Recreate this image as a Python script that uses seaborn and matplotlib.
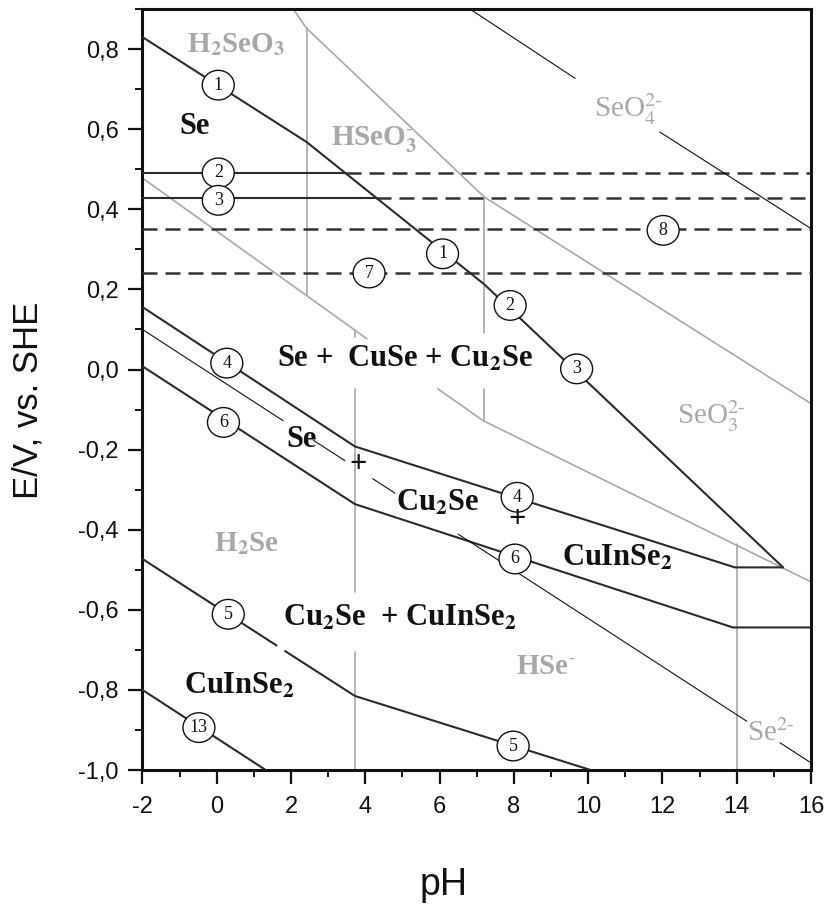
import matplotlib
matplotlib.use("Agg")
import matplotlib.pyplot as plt
from matplotlib.patches import Ellipse
from matplotlib.ticker import MultipleLocator, FuncFormatter
import seaborn as sns
import pandas as pd

# ---- boundary lines (pH, E) ; None separates pieces of one boundary ----
line1_ph = [-2, 2.42, 7.2, 15.25]
line1_e = [0.83, 0.568, 0.213, -0.494]
line2_ph = [-2, 3.47]
line2_e = [0.49, 0.49]
line2_dash_ph = [3.47, 16]
line2_dash_e = [0.49, 0.49]
line3_ph = [-2, 4.28]
line3_e = [0.428, 0.428]
line3_dash_ph = [4.28, 16]
line3_dash_e = [0.428, 0.428]
line8_ph = [-2, 16]
line8_e = [0.35, 0.35]
line7_ph = [-2, 16]
line7_e = [0.241, 0.241]
line4_ph = [-2, 3.72, 13.95, 15.25]
line4_e = [0.156, -0.192, -0.494, -0.494]
line6_ph = [-2, 3.72, 13.9, 16]
line6_e = [0.008, -0.336, -0.644, -0.644]
line5_ph = [-2, 1.61, None, 1.84, 3.72, 10.07]
line5_e = [-0.473, -0.689, None, -0.703, -0.815, -1.0]
line13_ph = [-2, 1.32]
line13_e = [-0.80, -1.0]
cu2se_ph = [-2, 1.79, None, 2.6, 3.45, None, 4.2, 4.8, None, 6.5, 14.27, None, 15.17, 16]
cu2se_e = [0.10, -0.128, None, -0.1765, -0.2275, None, -0.2726, -0.3087, None,
           -0.411, -0.878, None, -0.932, -0.982]
seo4_ph = [6.86, 9.65, None, 11.93, 16]
seo4_e = [0.8975, 0.727, None, 0.593, 0.352]

# ---- selenium species boundaries (grey) ----
g_upper_ph = [2.06, 2.42, 7.2, 16]
g_upper_e = [0.90, 0.852, 0.431, -0.085]
g_lower_ph = [-2, 4.04, None, 5.95, 7.18, 16]
g_lower_e = [0.478, 0.077, None, -0.048, -0.128, -0.53]
g_pk1_ph = [2.42, 2.42]
g_pk1_e = [0.852, 0.185]
g_pk2_ph = [7.2, 7.2, None, 7.2, 7.2]
g_pk2_e = [0.431, 0.09, None, -0.0475, -0.128]
g_pk3_ph = [3.72, 3.72, None, 3.72, 3.72, None, 3.72, 3.72]
g_pk3_e = [0.098, 0.08, None, -0.0475, -0.555, None, -0.705, -1.0]
g_pk4_ph = [14, 14]
g_pk4_e = [-0.436, -1.0]

# ---- numbered reaction markers ----
circle_text = ["1", "2", "3", "7", "4", "6", "5", "13", "1", "2", "3", "8", "4", "6", "5"]
circle_ph = [0.04, 0.04, 0.04, 4.1, 0.27, 0.18, 0.31, -0.48, 6.08, 7.9, 9.69, 12.02, 8.09, 8.03, 7.98]
circle_e = [0.71, 0.491, 0.4225, 0.241, 0.016, -0.132, -0.611, -0.894, 0.289, 0.16, 0.0017,
            0.3475, -0.319, -0.473, -0.94]

# ---- phase-field labels ----
phase_text = ["Se", "Se +  CuSe + Cu$_{\\mathbf{2}}$Se", "Se", "+", "Cu$_{\\mathbf{2}}$Se", "+",
              "CuInSe$_{\\mathbf{2}}$", "Cu$_{\\mathbf{2}}$Se  + CuInSe$_{\\mathbf{2}}$", "CuInSe$_{\\mathbf{2}}$"]
phase_ph = [-0.61, 5.07, 2.27, 3.81, 5.96, 8.09, 10.78, 4.93, 0.6]
phase_e = [0.589, 0.006, -0.194, -0.257, -0.3525, -0.394, -0.49, -0.64, -0.81]

species_text = ["H$_{\\mathbf{2}}$SeO$_{\\mathbf{3}}$", "HSeO$_{\\mathbf{3}}^{\u2010}$",
                "SeO$_4^{2\u2010}$", "SeO$_3^{2\u2010}$", "H$_{\\mathbf{2}}$Se", "HSe$^{\u2010}$",
                "Se$^{2\u2010}$"]
species_ph = [0.52, 4.23, 11.07, 13.31, 0.79, 8.87, 14.93]
species_e = [0.7925, 0.56, 0.631, -0.1375, -0.4525, -0.76, -0.9275]
species_bold = [True, True, False, False, True, True, False]

x_ticks = [-2, 0, 2, 4, 6, 8, 10, 12, 14, 16]
y_ticks = [-1.0, -0.8, -0.6, -0.4, -0.2, 0.0, 0.2, 0.4, 0.6, 0.8]

sns.set_theme(style="ticks")
plt.rcParams["font.family"] = ["Liberation Sans", "DejaVu Sans"]
plt.rcParams["mathtext.fontset"] = "stix"

DARK = "#2b2b2b"
GREY = "#a8a8a8"

fig = plt.figure(figsize=(8.27, 9.07), dpi=100)
ax = fig.add_axes([0.1723, 0.1510, 0.8083, 0.8390])


def draw(ph, e, **kw):
    piece_x, piece_y = [], []
    for xv, yv in zip(ph + [None], e + [None]):
        if xv is None:
            if piece_x:
                df = pd.DataFrame({"pH": piece_x, "E": piece_y})
                sns.lineplot(data=df, x="pH", y="E", sort=False, estimator=None, ax=ax, **kw)
            piece_x, piece_y = [], []
        else:
            piece_x.append(xv)
            piece_y.append(yv)


grey_kw = dict(color=GREY, linewidth=1.2, zorder=2)
for ph, e in [(g_upper_ph, g_upper_e), (g_lower_ph, g_lower_e), (g_pk1_ph, g_pk1_e),
              (g_pk2_ph, g_pk2_e), (g_pk3_ph, g_pk3_e), (g_pk4_ph, g_pk4_e)]:
    draw(ph, e, **grey_kw)

dash_kw = dict(color="#333333", linewidth=1.8, dashes=(6, 3.2), zorder=3)
for ph, e in [(line2_dash_ph, line2_dash_e), (line3_dash_ph, line3_dash_e),
              (line8_ph, line8_e), (line7_ph, line7_e)]:
    draw(ph, e, **dash_kw)

solid_kw = dict(color=DARK, linewidth=1.5, zorder=3)
for ph, e in [(line1_ph, line1_e), (line2_ph, line2_e), (line3_ph, line3_e),
              (line4_ph, line4_e), (line6_ph, line6_e), (line5_ph, line5_e),
              (line13_ph, line13_e)]:
    draw(ph, e, **solid_kw)

thin_kw = dict(color="#111111", linewidth=0.8, zorder=3)
draw(cu2se_ph, cu2se_e, **thin_kw)
draw(seo4_ph, seo4_e, **thin_kw)

for t, xv, yv in zip(circle_text, circle_ph, circle_e):
    ax.add_patch(Ellipse((xv, yv), 0.86, 0.074, facecolor="white", edgecolor="#111111",
                         linewidth=1.0, zorder=5))
    ax.text(xv, yv, t, ha="center", va="center", fontsize=13, family="Liberation Serif",
            color="#111111", zorder=6)

for t, xv, yv in zip(phase_text, phase_ph, phase_e):
    ax.text(xv, yv, t, ha="center", va="baseline", fontsize=22, family="Liberation Serif",
            fontweight="bold", color="#111111", zorder=6)

for t, xv, yv, b in zip(species_text, species_ph, species_e, species_bold):
    ax.text(xv, yv, t, ha="center", va="baseline", fontsize=21, family="Liberation Serif",
            fontweight="bold" if b else "normal", color=GREY, zorder=6)

ax.set_xlim(-2, 16)
ax.set_ylim(-1.0, 0.9)
ax.set_xticks(x_ticks)
ax.set_yticks(y_ticks)
ax.xaxis.set_minor_locator(MultipleLocator(1))
ax.yaxis.set_minor_locator(MultipleLocator(0.1))
ax.yaxis.set_major_formatter(FuncFormatter(lambda v, p: f"{v:.1f}".replace(".", ",").replace("-0,0", "0,0")))
ax.xaxis.set_major_formatter(FuncFormatter(lambda v, p: f"{v:.0f}"))
ax.tick_params(which="major", direction="out", length=10, width=1.6, labelsize=17,
               color="#111111", labelcolor="#111111")
ax.tick_params(axis="x", which="major", pad=9)
ax.tick_params(axis="y", which="major", pad=7)
ax.tick_params(which="minor", direction="out", length=5, width=1.4, color="#111111")
for s in ax.spines.values():
    s.set_linewidth(2.2)
    s.set_color("#111111")
    s.set_visible(True)
ax.set_xlabel("")
ax.set_ylabel("")

fig.text(28 / 827, 1 - 400 / 907, "E/V, vs. SHE", rotation=90, ha="center", va="center",
         fontsize=25, color="#111111")
fig.text(443.5 / 827, 1 - 895 / 907, "pH", ha="center", va="baseline", fontsize=27,
         color="#111111")

fig.savefig("out.png", dpi=100, facecolor="white")
